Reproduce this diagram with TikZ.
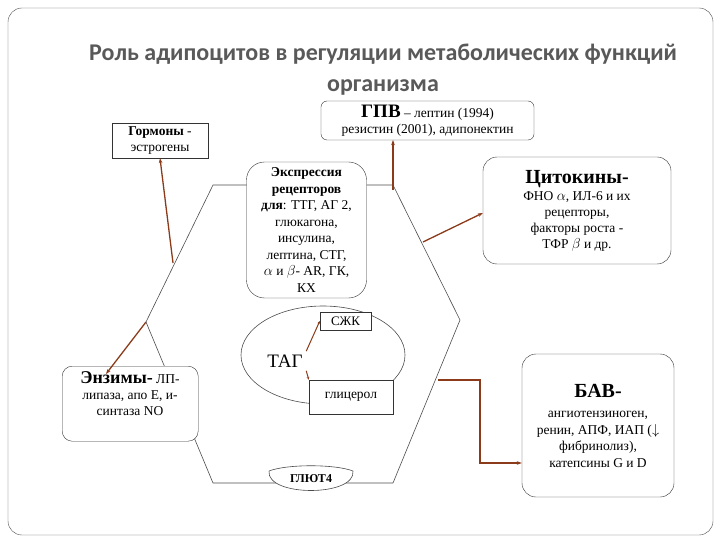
\documentclass[tikz,border=0pt]{standalone}
\usepackage{fontspec}
\setmainfont{Liberation Serif}
\newfontfamily\titlefont{Carlito}
\usetikzlibrary{arrows.meta}
\definecolor{arr}{HTML}{8B3A1A}
\definecolor{tgray}{HTML}{595959}
\tikzset{
  box/.style={draw=black!80,rounded corners=12pt,align=center,inner sep=1pt,font=\fontsize{14.5}{16.5}\selectfont},
  sbox/.style={draw=black!80,align=center,inner sep=1pt,font=\fontsize{14.5}{16.5}\selectfont},
  hex/.style={draw=black!70,line width=0.6pt},
  con/.style={draw=arr,line width=1.3pt,-{Stealth[length=5pt,width=3.5pt]}}
}
\begin{document}
\begin{tikzpicture}[x=1pt,y=-1pt]
\useasboundingbox (0,0) rectangle (720,540);
\draw[black!70,rounded corners=14pt] (8,8) rectangle (713,535);
\node[font=\titlefont\fontsize{24}{31}\selectfont\bfseries,text=tgray,align=center] (title) at (383,70) {Роль адипоцитов в регуляции метаболических функций\\организма};
% hexagon
\coordinate (h1) at (213,185); \coordinate (h2) at (393,185);
\coordinate (h3) at (460,320); \coordinate (h4) at (393,483);
\coordinate (h5) at (213,483); \coordinate (h6) at (146,322);
\draw[hex] (h6) -- (h1) -- (h2) -- (h3) -- (h4) -- (h5) -- (h6);
% ellipse
\draw[hex] (323,355) ellipse [x radius=82, y radius=49];
% nodes
\node[box,fill=white,minimum width=120pt,minimum height=136pt,rounded corners=18pt,font=\fontsize{13.5}{16.5}\selectfont] (expr) at (306.5,230) {\textbf{Экспрессия}\\\textbf{рецепторов}\\\textbf{для}: ТТГ, АГ 2,\\глюкагона,\\инсулина,\\лептина, СТГ,\\$\alpha$ и $\beta$- AR, ГК,\\КХ};
\node[sbox,minimum width=96pt,minimum height=35pt,fill=white,font=\fontsize{13.5}{16}\selectfont] (horm) at (160,140.5) {\textbf{Гормоны} -\\эстрогены};
\node[box,minimum width=213pt,minimum height=39pt,fill=white,rounded corners=6pt,font=\fontsize{13.5}{16}\selectfont] (gpv) at (427.5,120.5) {{\fontsize{19}{19}\selectfont\textbf{ГПВ}} -- лептин (1994)\\резистин (2001), адипонектин};
\node[box,minimum width=188pt,minimum height=107pt,fill=white,rounded corners=14pt,font=\fontsize{13.5}{16}\selectfont] (cyt) at (577,210.5) {{\fontsize{20}{22}\selectfont\textbf{Цитокины-}}\\[1pt]ФНО $\alpha$, ИЛ-6 и их\\рецепторы,\\факторы роста -\\ТФР $\beta$ и др.};
\node[box,minimum width=136pt,minimum height=75pt,fill=white,anchor=north west,rounded corners=10pt] (enz) at (62,366) {};
\node[font=\fontsize{13.5}{16}\selectfont,align=center] (enzt) at (130,394) {{\fontsize{18}{19}\selectfont\textbf{Энзимы-}} ЛП-\\липаза, апо Е, и-\\синтаза NO};
\node[box,minimum width=152pt,minimum height=143pt,fill=white,rounded corners=14pt,font=\fontsize{13.5}{16.5}\selectfont] (bav) at (598,425.5) {{\fontsize{20}{22}\selectfont\textbf{БАВ-}}\\[4pt]ангиотензиноген,\\ренин, АПФ, ИАП ($\downarrow$\\фибринолиз),\\катепсины G и D};
\node[sbox,minimum width=51pt,minimum height=18pt,fill=white,font=\fontsize{13}{14}\selectfont] (szk) at (345.5,321) {СЖК};
\node[font=\fontsize{19}{20}\selectfont] (tag) at (285,361) {ТАГ};
\node[sbox,minimum width=84pt,minimum height=34pt,fill=white,font=\fontsize{13.5}{14}\selectfont] (glic) at (351,397) {глицерол};
\draw[hex,fill=white] (269,471) .. controls (266,497) and (356,497) .. (353,471) .. controls (335,464) and (287,464) .. (269,471);
\node[font=\fontsize{12}{13}\selectfont\bfseries] (glut) at (311,479) {ГЛЮТ4};
% connectors
\coordinate (cA) at (173,263); \coordinate (cB) at (393,190);
\coordinate (cC) at (423,242); \coordinate (cD) at (146,322);
\coordinate (cE) at (438,380);
\draw[con] (cA) -- (horm.south);
\draw[con] (cB) -- (393,140);
\draw[con] (cC) -- (cyt.west |- 0,213);
\draw[con] (cD) -- (106,374);
\draw[con] (cE) -- (480,380) -- (480,463) -- (bav.west |- 0,463);
\draw[arr,line width=1pt,-{Stealth[length=3pt,width=2.5pt]}] (tag.north east) -- (szk.west);
\draw[arr,line width=1pt,-{Stealth[length=3pt,width=2.5pt]}] (tag.south east) -- (glic.north west);
\end{tikzpicture}
\end{document}
